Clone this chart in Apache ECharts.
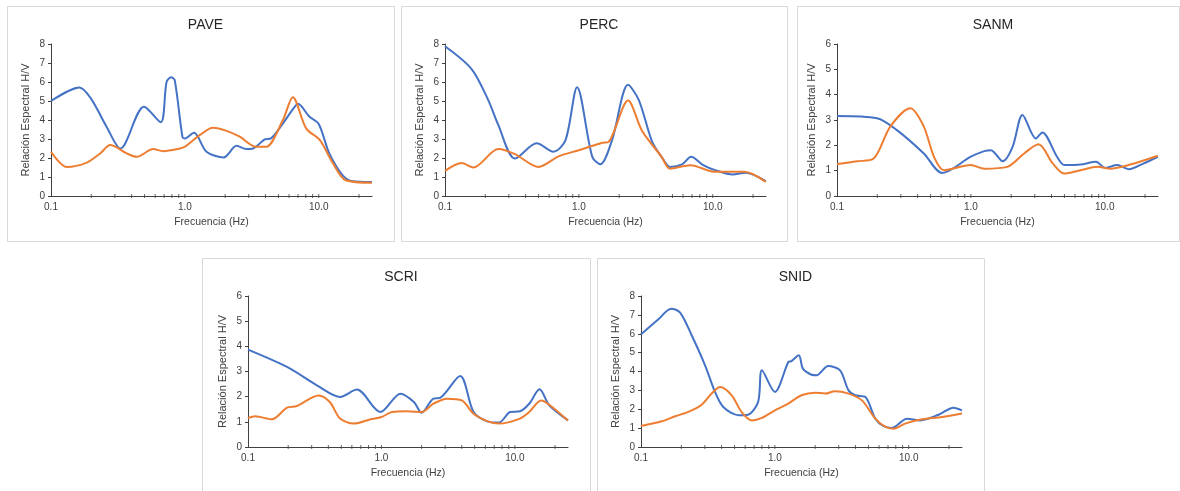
<!DOCTYPE html>
<html>
<head>
<meta charset="utf-8">
<script src="https://cdn.jsdelivr.net/npm/echarts@6/dist/echarts.min.js"></script>
<style>
  html, body { margin: 0; padding: 0; background: #fff; }
  #main { width: 1180px; height: 491px; }
</style>
</head>
<body>
<div id="main"></div>
<script>
// stations
var stations = ['PAVE', 'PERC', 'SANM', 'SCRI', 'SNID'];
var yMax = [8, 8, 6, 6, 8];

// [frecuencia Hz, H/V]  -- blue curve / orange curve per station
var paveBlue = [[0.1, 5.0], [0.163, 5.71], [0.2, 5.1], [0.26, 3.65], [0.33, 2.5], [0.495, 4.7], [0.66, 3.88], [0.73, 6.0], [0.79, 6.25], [0.84, 6.1], [0.96, 3.1], [1.0, 3.03], [1.17, 3.33], [1.45, 2.33], [1.95, 2.03], [2.43, 2.64], [2.88, 2.47], [3.23, 2.5], [3.95, 2.98], [4.4, 3.03], [5.4, 3.82], [6.4, 4.56], [7.0, 4.85], [8.5, 4.18], [10, 3.79], [12, 2.24], [15.1, 1.09], [17.9, 0.78], [25, 0.74]];
var paveOrange = [[0.1, 2.33], [0.131, 1.53], [0.185, 1.76], [0.233, 2.24], [0.277, 2.68], [0.368, 2.24], [0.437, 2.06], [0.58, 2.47], [0.69, 2.36], [0.92, 2.5], [1.0, 2.59], [1.29, 3.2], [1.62, 3.59], [2.05, 3.43], [2.57, 3.12], [3.41, 2.59], [4.05, 2.59], [5.4, 4.0], [6.4, 5.2], [8.05, 3.56], [10.2, 2.94], [12.8, 1.71], [15.9, 0.83], [25, 0.7]];

var percBlue = [[0.1, 7.88], [0.158, 6.68], [0.21, 5.06], [0.25, 3.74], [0.333, 1.97], [0.484, 2.77], [0.646, 2.33], [0.795, 2.94], [0.97, 5.73], [1.26, 2.06], [1.45, 1.67], [1.77, 2.94], [2.33, 5.85], [2.8, 5.06], [3.53, 2.85], [4.15, 2.06], [4.8, 1.53], [5.9, 1.66], [6.9, 2.06], [8.5, 1.62], [10.4, 1.36], [14.1, 1.13], [17.6, 1.23], [24.9, 0.78]];
var percOrange = [[0.1, 1.32], [0.133, 1.74], [0.163, 1.5], [0.25, 2.47], [0.333, 2.2], [0.5, 1.53], [0.71, 2.1], [1.0, 2.41], [1.5, 2.8], [1.67, 2.85], [2.33, 5.02], [2.97, 3.42], [4.15, 2.06], [4.8, 1.44], [6.8, 1.62], [10.4, 1.27], [17.2, 1.27], [24.9, 0.74]];

var sanmBlue = [[0.1, 3.16], [0.199, 3.07], [0.28, 2.6], [0.445, 1.68], [0.61, 0.91], [1.0, 1.55], [1.26, 1.77], [1.41, 1.81], [1.73, 1.37], [2.05, 1.94], [2.43, 3.2], [3.06, 2.27], [3.42, 2.51], [4.4, 1.55], [4.98, 1.22], [6.6, 1.24], [8.6, 1.35], [10.1, 1.11], [12.4, 1.22], [15.1, 1.06], [19.4, 1.28], [24.9, 1.55]];
var sanmOrange = [[0.1, 1.26], [0.141, 1.37], [0.188, 1.48], [0.25, 2.74], [0.353, 3.46], [0.445, 2.74], [0.53, 1.55], [0.63, 1.02], [1.0, 1.22], [1.26, 1.08], [1.87, 1.15], [2.5, 1.68], [3.2, 2.04], [4.1, 1.28], [4.98, 0.89], [6.6, 1.02], [8.8, 1.15], [11.0, 1.08], [15.5, 1.24], [24.9, 1.59]];

var scriBlue = [[0.1, 3.87], [0.196, 3.18], [0.338, 2.41], [0.49, 1.99], [0.655, 2.28], [0.98, 1.39], [1.39, 2.12], [1.75, 1.79], [2.0, 1.36], [2.45, 1.92], [2.75, 1.95], [3.89, 2.82], [4.9, 1.39], [6.2, 1.02], [7.6, 0.97], [9.2, 1.39], [10.9, 1.42], [12.8, 1.72], [15.3, 2.29], [18.1, 1.66], [25, 1.06]];
var scriOrange = [[0.1, 1.15], [0.113, 1.22], [0.151, 1.1], [0.196, 1.56], [0.232, 1.63], [0.338, 2.05], [0.41, 1.79], [0.49, 1.13], [0.62, 0.93], [0.83, 1.1], [1.0, 1.19], [1.2, 1.39], [1.55, 1.42], [2.0, 1.39], [2.45, 1.72], [3.1, 1.92], [4.0, 1.85], [4.9, 1.32], [6.2, 1.03], [7.6, 0.93], [10.9, 1.13], [12.8, 1.39], [15.7, 1.85], [18.1, 1.68], [25, 1.05]];

var snidBlue = [[0.1, 5.97], [0.135, 6.77], [0.168, 7.33], [0.196, 7.12], [0.239, 5.92], [0.301, 4.33], [0.357, 2.92], [0.412, 2.12], [0.535, 1.68], [0.63, 1.71], [0.75, 2.39], [0.8, 4.06], [1.0, 2.92], [1.26, 4.5], [1.32, 4.54], [1.51, 4.86], [1.62, 4.15], [1.88, 3.83], [2.05, 3.8], [2.5, 4.29], [3.07, 4.06], [3.55, 3.0], [3.98, 2.74], [4.75, 2.65], [5.63, 1.5], [6.5, 1.1], [7.5, 1.01], [9.7, 1.5], [12.2, 1.41], [16.7, 1.71], [21.6, 2.08], [25, 1.94]];
var snidOrange = [[0.1, 1.11], [0.143, 1.36], [0.18, 1.63], [0.226, 1.86], [0.284, 2.24], [0.337, 2.83], [0.39, 3.18], [0.476, 2.74], [0.563, 1.86], [0.67, 1.41], [0.8, 1.54], [1.0, 1.94], [1.26, 2.3], [1.58, 2.74], [1.99, 2.88], [2.37, 2.83], [2.8, 2.95], [3.55, 2.83], [4.47, 2.47], [5.63, 1.5], [6.7, 1.06], [7.7, 0.97], [9.4, 1.24], [12.6, 1.47], [17.7, 1.59], [25, 1.78]];

var blueData = [paveBlue, percBlue, sanmBlue, scriBlue, snidBlue];
var orangeData = [paveOrange, percOrange, sanmOrange, scriOrange, snidOrange];

// log-axis tick marks (Hz)
var xTicks = [0.2, 0.3, 0.4, 0.5, 0.6, 0.7, 0.8, 0.9, 1, 2, 3, 4, 5, 6, 7, 8, 9, 10, 20];

// layout: panel frames and plot areas
var panels = [
    { box: [7, 6, 387, 235], grid: [51, 44, 321, 152] },
    { box: [401, 6, 386, 235], grid: [445, 44, 321, 152] },
    { box: [797, 6, 382, 235], grid: [837, 44, 321, 152] },
    { box: [202, 258, 388, 245], grid: [248, 296, 320, 151] },
    { box: [597, 258, 387, 245], grid: [641, 296, 321, 151] }
];

var chartDom = document.getElementById('main');
var myChart = echarts.init(chartDom, null, { renderer: 'canvas' });
var option;

var font = 'Liberation Sans, Arial, sans-serif';
var axisColor = '#404040';
var textColor = '#404040';

var titles = [], grids = [], xAxes = [], yAxes = [], series = [], graphics = [];

panels.forEach(function (p, i) {
    graphics.push({
        type: 'rect',
        shape: { x: p.box[0] + 0.5, y: p.box[1] + 0.5, width: p.box[2], height: p.box[3] },
        style: { fill: '#fff', stroke: '#d9d9d9', lineWidth: 1 },
        z: -10
    });
    titles.push({
        text: stations[i],
        left: p.box[0] + p.box[2] / 2,
        top: p.box[1] + 7,
        textAlign: 'center',
        textStyle: { fontFamily: font, fontSize: 14, fontWeight: 'normal', color: '#262626' }
    });
    grids.push({ left: p.grid[0], top: p.grid[1], width: p.grid[2], height: p.grid[3] });
    xAxes.push({
        type: 'log',
        logBase: 10,
        gridIndex: i,
        min: 0.1,
        max: 25,
        name: 'Frecuencia (Hz)',
        nameLocation: 'middle',
        nameGap: 21,
        nameTextStyle: { fontFamily: font, fontSize: 10.5, color: textColor },
        axisLine: { lineStyle: { color: axisColor, width: 1 } },
        axisTick: { show: false },
        splitLine: { show: false },
        axisLabel: {
            fontFamily: font, fontSize: 10, color: textColor, margin: 6,
            formatter: function (v) {
                var l = Math.log(v) / Math.LN10;
                if (Math.abs(l - Math.round(l)) > 1e-6 || v > 20) return '';
                return v.toFixed(1);
            }
        }
    });
    yAxes.push({
        type: 'value',
        gridIndex: i,
        min: 0,
        max: yMax[i],
        interval: 1,
        name: 'Relación Espectral H/V',
        nameLocation: 'middle',
        nameGap: 20,
        nameTextStyle: { fontFamily: font, fontSize: 11, color: textColor },
        axisLine: { show: true, lineStyle: { color: axisColor, width: 1 } },
        axisTick: { show: true, length: 3, lineStyle: { color: axisColor } },
        splitLine: { show: false },
        axisLabel: { fontFamily: font, fontSize: 10, color: textColor, margin: 6 }
    });
    series.push({
        type: 'scatter',
        xAxisIndex: i,
        yAxisIndex: i,
        data: xTicks.map(function (f) { return [f, 0]; }),
        symbol: 'rect',
        symbolSize: [1, 4],
        itemStyle: { color: axisColor },
        silent: true,
        clip: false,
        z: 1
    });
    series.push({
        type: 'line',
        xAxisIndex: i,
        yAxisIndex: i,
        data: blueData[i],
        smooth: 0.3,
        showSymbol: false,
        lineStyle: { color: '#4472C4', width: 2 },
        z: 3
    });
    series.push({
        type: 'line',
        xAxisIndex: i,
        yAxisIndex: i,
        data: orangeData[i],
        smooth: 0.3,
        showSymbol: false,
        lineStyle: { color: '#ED7D31', width: 2 },
        z: 4
    });
});

option = {
    animation: false,
    backgroundColor: '#fff',
    title: titles,
    grid: grids,
    xAxis: xAxes,
    yAxis: yAxes,
    series: series,
    graphic: graphics
};

option && myChart.setOption(option);
</script>
</body>
</html>
